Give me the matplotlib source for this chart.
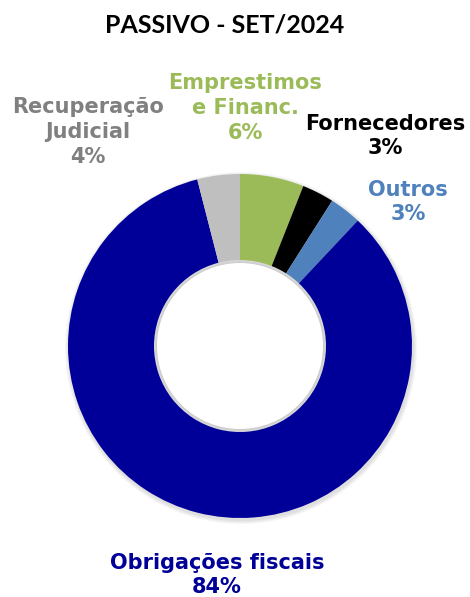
import matplotlib
matplotlib.use("Agg")
import matplotlib.pyplot as plt
from matplotlib.patches import Circle

categories = ["Emprestimos\ne Financ.", "Fornecedores", "Outros", "Obrigações fiscais", "Recuperação\nJudicial"]
values = [6, 3, 3, 84, 4]
slice_colors = ["#9BBB59", "#000000", "#4F81BD", "#000099", "#BFBFBF"]
label_colors = ["#9BBB59", "#000000", "#4F81BD", "#000099", "#808080"]
title = "PASSIVO - SET/2024"

W, H = 470, 597
fig = plt.figure(figsize=(W / 100, H / 100), dpi=100)
ax = fig.add_axes([0, 0, 1, 1])

cx, cy, r = 240, H - 346, 172

# soft shadow
for i, a in enumerate([0.03, 0.03, 0.03, 0.03]):
    ax.add_patch(Circle((cx + 1, cy - 2), r + 4 - i, color="#000000", alpha=a, lw=0, zorder=0))

ax.pie(values, colors=slice_colors, startangle=90, counterclock=False,
       center=(cx, cy), radius=r, frame=True,
       wedgeprops=dict(width=r * 0.5, linewidth=0, zorder=1))
for i, a in enumerate([0.03, 0.025, 0.02]):
    ax.add_patch(Circle((cx, cy), r * 0.5 - i, color="#000000", alpha=a, lw=0, zorder=2))
ax.add_patch(Circle((cx, cy), r * 0.5 - 3, color="white", lw=0, zorder=3))
ax.set_xlim(0, W)
ax.set_ylim(0, H)
ax.axis("off")

label_pos = [(245, H - 108), (385, H - 136), (408, H - 202), (217, H - 575), (88, H - 132)]
for cat, v, col, (x, y) in zip(categories, values, label_colors, label_pos):
    ax.text(x, y, f"{cat}\n{v}%", ha="center", va="center", color=col,
            fontsize=15, fontweight="bold", family="DejaVu Sans", linespacing=1.3)

ax.text(225, H - 25, title, ha="center", va="center", fontsize=18,
        fontweight="bold", family="Lato")

fig.savefig("out.png", dpi=100)
